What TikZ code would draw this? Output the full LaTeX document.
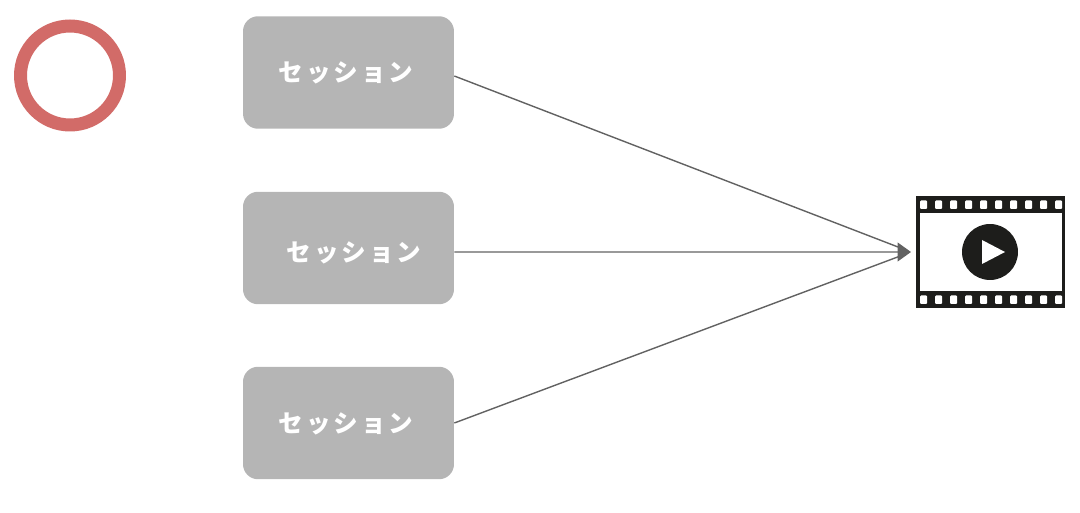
\documentclass[tikz,border=0pt]{standalone}
\usepackage{fontspec}
\usepackage{xcolor}
\usetikzlibrary{arrows.meta}
\newfontfamily\cjk[LetterSpace=12]{Noto Sans CJK JP}
\definecolor{sessiongray}{HTML}{B5B5B5}
\definecolor{ringred}{HTML}{D26B68}
\definecolor{linegray}{HTML}{626262}
\definecolor{filmblack}{HTML}{1D1D1B}
\tikzset{
    session/.style={fill=sessiongray, rounded corners=0.3cm, minimum width=4.22cm, minimum height=2.25cm, inner sep=0},
    sessionlabel/.style={text=white, font=\cjk\bfseries\fontsize{14pt}{16pt}\selectfont, inner sep=0},
    link/.style={draw=linegray, line width=0.8pt},
    hole/.style={fill=white, rounded corners=0.02cm}
}

\begin{document}
\begin{tikzpicture}[x=0.02cm, y=-0.02cm]
    \useasboundingbox (0,0) rectangle (1080,513);
    \node[draw=ringred, line width=0.26cm, circle, minimum size=1.98cm, inner sep=0] (ring) at (70,75.5) {};

    \node[session] (sessiona) at (348.5,72.5) {};
    \node[session] (sessionb) at (348.5,248) {};
    \node[session] (sessionc) at (348.5,423) {};
    \node[sessionlabel] (labela) at (346,72.5) {セッション};
    \node[sessionlabel] (labelb) at (354,252.5) {セッション};
    \node[sessionlabel] (labelc) at (346,423.5) {セッション};

    % film strip
    \node[fill=filmblack, minimum width=2.98cm, minimum height=2.24cm, inner sep=0] (film) at (990.5,252) {};
    \fill[white] (920,213) rectangle (1062,291);
    \foreach \i in {0,...,9} {
        \fill[hole] (920+15*\i,200.5) rectangle (927+15*\i,209);
        \fill[hole] (920+15*\i,295.5) rectangle (927+15*\i,304);
    }
    \node[fill=filmblack, circle, minimum size=1.12cm, inner sep=0] (play) at (990,252) {};
    \fill[white] (982,240) -- (1005,252) -- (982,264) -- cycle;

    % links
    \coordinate (tip) at (911,252);
    \draw[link, shorten >=0.12cm] ([yshift=-0.07cm]sessiona.east) -- (tip);
    \draw[link, -{Triangle[length=0.27cm, width=0.38cm]}] ([yshift=-0.08cm]sessionb.east) -- (tip);
    \draw[link, shorten >=0.12cm] (sessionc.east) -- (tip);
\end{tikzpicture}
\end{document}
